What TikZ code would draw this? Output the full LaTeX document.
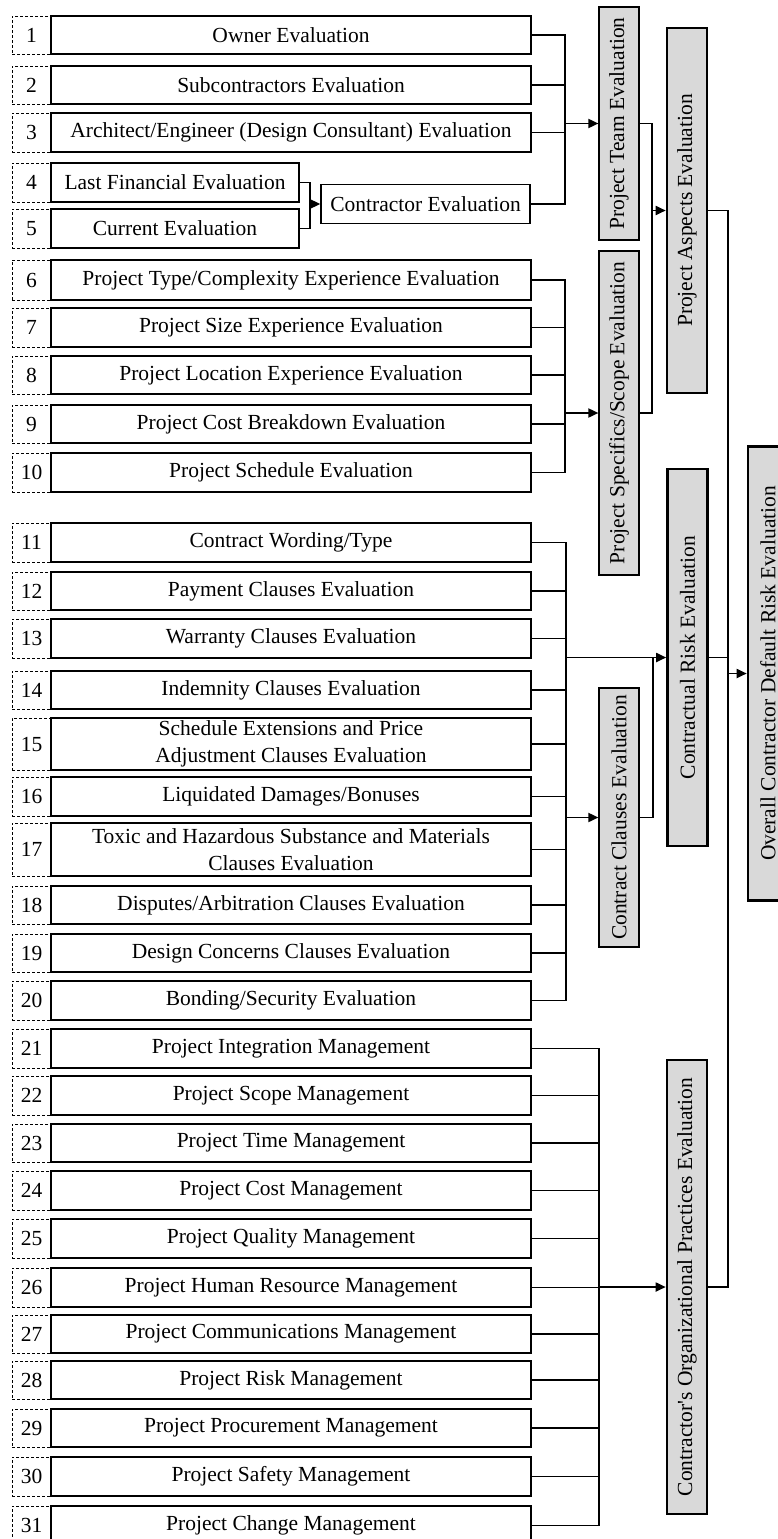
\documentclass[tikz,border=0pt]{standalone}
\usepackage{fontspec}
\setmainfont{Liberation Serif}
\usetikzlibrary{arrows.meta}
\definecolor{panelgray}{RGB}{217,217,217}
% one criterion row: #1 name, #2 number, #3 top, #4 bottom, #5 text
\newcommand\critrow[5]{%
  \node[numbox, minimum height={#4-#3}] (#1n) at (31.5,{(#3+#4)/2}) {#2};
  \node[itembox, minimum height={#4-#3}] (#1) at (291,{(#3+#4)/2}) {#5};}
\begin{document}
\begin{tikzpicture}[x=1pt,y=-1pt,
  font=\fontsize{21.5}{27}\selectfont,
  numbox/.style={draw, line width=0.9pt, dash pattern=on 3pt off 2pt,
    minimum width=39pt, inner sep=0pt},
  itembox/.style={draw, line width=1.3pt, minimum width=480pt,
    inner sep=0pt, align=center},
  groupbox/.style={draw, line width=1.2pt, fill=panelgray, rotate=90,
    minimum height=40pt, inner sep=0pt},
  keybox/.style={groupbox, line width=2.6pt},
  link/.style={line width=1.1pt},
  feed/.style={line width=1.8pt, -{Triangle[length=10pt,width=9pt]}},
]
\useasboundingbox (0,0) rectangle (778,1539);

% ---- project team ----
\critrow{i1}{1}{16}{54}{Owner Evaluation}
\critrow{i2}{2}{66}{104}{Subcontractors Evaluation}
\critrow{i3}{3}{113}{152}{Architect/Engineer (Design Consultant) Evaluation}
\node[numbox, minimum height=39pt] (i4n) at (31.5,182.5) {4};
\node[itembox, minimum height=39pt, minimum width=248pt] (i4) at (175,182.5) {Last Financial Evaluation};
\node[numbox, minimum height=39pt] (i5n) at (31.5,228.5) {5};
\node[itembox, minimum height=39pt, minimum width=248pt] (i5) at (175,228.5) {Current Evaluation};
\node[itembox, minimum height=39pt, minimum width=209pt] (ce) at (425.5,204) {Contractor Evaluation};

% ---- project specifics ----
\critrow{i6}{6}{260}{300}{Project Type/Complexity Experience Evaluation}
\critrow{i7}{7}{308}{347}{Project Size Experience Evaluation}
\critrow{i8}{8}{356}{394}{Project Location Experience Evaluation}
\critrow{i9}{9}{405}{443}{Project Cost Breakdown Evaluation}
\critrow{i10}{10}{453}{492}{Project Schedule Evaluation}

% ---- contract clauses ----
\critrow{i11}{11}{523}{562}{Contract Wording/Type}
\critrow{i12}{12}{572}{610}{Payment Clauses Evaluation}
\critrow{i13}{13}{619}{658}{Warranty Clauses Evaluation}
\critrow{i14}{14}{671}{709}{Indemnity Clauses Evaluation}
\critrow{i15}{15}{718}{770}{Schedule Extensions and Price\\Adjustment Clauses Evaluation}
\critrow{i16}{16}{777}{816}{Liquidated Damages/Bonuses}
\critrow{i17}{17}{823}{876}{Toxic and Hazardous Substance and Materials\\Clauses Evaluation}
\critrow{i18}{18}{886}{924}{Disputes/Arbitration Clauses Evaluation}
\critrow{i19}{19}{934}{972}{Design Concerns Clauses Evaluation}
\critrow{i20}{20}{981}{1020}{Bonding/Security Evaluation}

% ---- organizational practices ----
\critrow{i21}{21}{1029}{1068}{Project Integration Management}
\critrow{i22}{22}{1076}{1115}{Project Scope Management}
\critrow{i23}{23}{1124}{1162}{Project Time Management}
\critrow{i24}{24}{1171}{1210}{Project Cost Management}
\critrow{i25}{25}{1219}{1258}{Project Quality Management}
\critrow{i26}{26}{1268}{1307}{Project Human Resource Management}
\critrow{i27}{27}{1315}{1353}{Project Communications Management}
\critrow{i28}{28}{1361}{1399}{Project Risk Management}
\critrow{i29}{29}{1409}{1447}{Project Procurement Management}
\critrow{i30}{30}{1457}{1496}{Project Safety Management}
\critrow{i31}{31}{1506}{1545}{Project Change Management}

% ---- evaluation columns ----
\node[groupbox, minimum width=233pt] (pt) at (619,123.5) {Project Team Evaluation};
\node[groupbox, minimum width=324pt] (ps) at (619,413) {Project Specifics/Scope Evaluation};
\node[groupbox, minimum width=259pt] (cc) at (619,817.5) {Contract Clauses Evaluation};
\node[keybox, minimum width=365pt] (pa) at (687,210.5) {Project Aspects Evaluation};
\node[keybox, minimum width=377pt] (cr) at (687.5,657.5) {Contractual Risk Evaluation};
\node[keybox, minimum width=454pt] (org) at (687,1287) {Contractor\textquotesingle s Organizational Practices Evaluation};
\node[keybox, minimum width=454pt] (ov) at (768,673.5) {Overall Contractor Default Risk Evaluation};

% ---- junctions ----
\coordinate (j45) at (310,204);
\coordinate (jA) at (565,123.5);
\coordinate (jB) at (565,413);
\coordinate (jC) at (566,817.5);
\coordinate (jC2) at (566,657.5);
\coordinate (jR) at (653,657.5);
\coordinate (jD) at (599,1287);
\coordinate (jT) at (652,210.5);
\coordinate (jF) at (728,673.5);

% ---- connectors ----
\foreach \s in {i4,i5} \draw[link] (\s.east) -| (j45);
\draw[feed] (j45) -- (ce.west);

\foreach \s in {i1,i2,i3,ce} \draw[link] (\s.east) -| (jA);
\draw[feed] (jA) -- (pt.north);

\foreach \s in {i6,i7,i8,i9,i10} \draw[link] (\s.east) -| (jB);
\draw[feed] (jB) -- (ps.north);

\foreach \s in {pt,ps} \draw[link] (\s.south) -| (jT);
\draw[feed] (jT) -- (pa.north);

\foreach \s in {i11,i12,i13,i14,i15,i16,i17,i18,i19,i20} \draw[link] (\s.east) -| (jC);
\draw[feed] (jC) -- (cc.north);
\draw[link] (cc.south) -| (jR);
\draw[feed] (jC2) -- (cr.north);

\foreach \s in {i21,i22,i23,i24,i25,i26,i27,i28,i29,i30,i31} \draw[link] (\s.east) -| (jD);
\draw[feed] (jD) -- (org.north);

\foreach \s in {pa,cr,org} \draw[link] (\s.south) -| (jF);
\draw[feed] (jF) -- (ov.north);
\end{tikzpicture}
\end{document}
